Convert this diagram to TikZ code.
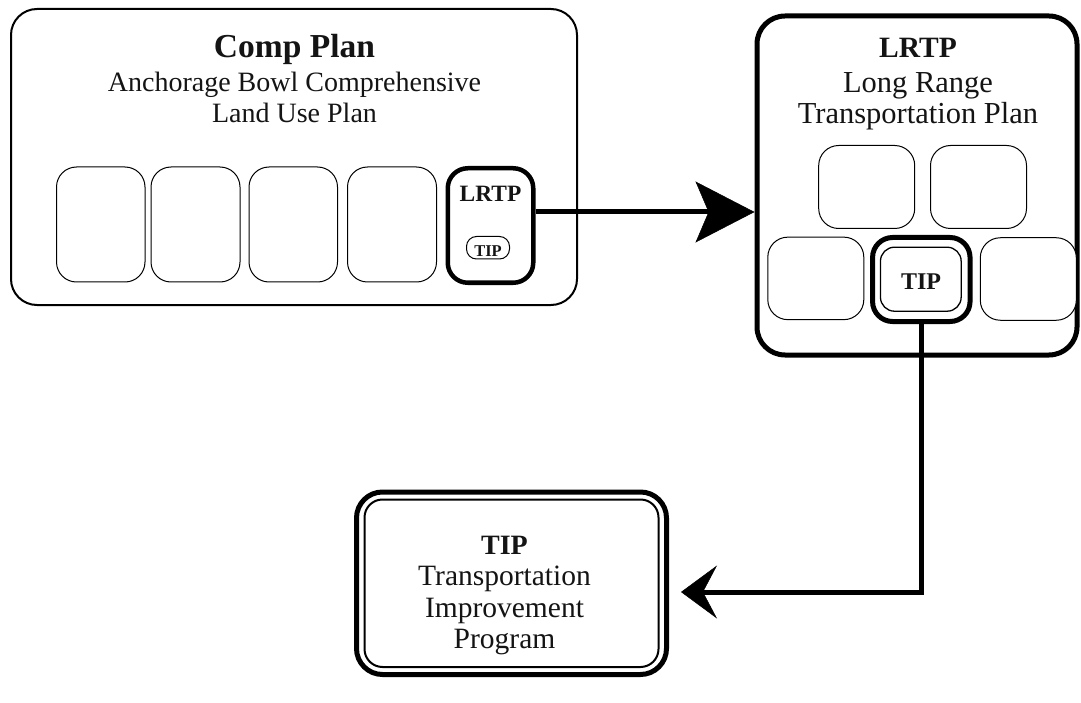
\documentclass[tikz,border=0pt]{standalone}
\usepackage{fontspec}
\setmainfont{Liberation Serif}
\usetikzlibrary{arrows.meta}

\newcommand{\bsz}[1]{\bfseries\fontsize{#1}{#1}\selectfont}
\newcommand{\rsz}[1]{\fontsize{#1}{#1}\selectfont}

\begin{document}
\begin{tikzpicture}[x=1pt,y=-1pt,
  panel/.style={draw=black, rectangle, inner sep=0pt, fill=white},
  thinbox/.style={panel, line width=1pt, rounded corners=20pt},
  thickbox/.style={panel, line width=5pt, rounded corners=20pt},
  label/.style={anchor=base, inner sep=0pt, text=black!92},
  conn/.style={draw=black, line width=5pt}]

% page
\fill[white] (0,0) rectangle (1081,703);
\useasboundingbox (0,0) rectangle (1081,703);

% ---------- Comp Plan ----------
\node[panel, line width=2pt, rounded corners=26pt,
      minimum width=566pt, minimum height=296pt] (cp) at (294,157) {};
\node[label, font=\bsz{33.5}] (cptitle) at (294.5,58) {Comp Plan};
\node[label, font=\rsz{28}] (cpsub1) at (294.5,92) {Anchorage Bowl Comprehensive};
\node[label, font=\rsz{28}] (cpsub2) at (294.5,123) {Land Use Plan};

\node[thinbox, minimum width=88.5pt, minimum height=115pt] (cpA) at (100.75,224.5) {};
\node[thinbox, minimum width=89pt,   minimum height=115pt] (cpB) at (195.5,224.5) {};
\node[thinbox, minimum width=88.5pt, minimum height=115pt] (cpC) at (293.25,224.5) {};
\node[thinbox, minimum width=89pt,   minimum height=115pt] (cpD) at (392,224.5) {};
\node[panel, line width=4.5pt, rounded corners=20pt,
      minimum width=85.5pt, minimum height=114.5pt] (cpL) at (490.5,225.5) {};
\node[label, font=\bsz{23.4}] (cpLtext) at (490.5,202) {LRTP};
\node[panel, line width=1pt, rounded corners=10pt,
      minimum width=43pt, minimum height=22.5pt] (cpT) at (488,247.75) {};
\node[label, font=\bsz{16.5}] (cpTtext) at (488,256.5) {TIP};

% ---------- LRTP ----------
\node[panel, line width=5pt, rounded corners=28pt,
      minimum width=320pt, minimum height=339pt] (lr) at (917,185.5) {};
\node[label, font=\bsz{29.5}] (lrtitle) at (918,58) {LRTP};
\node[label, font=\rsz{30.5}] (lrsub1) at (918,93) {Long Range};
\node[label, font=\rsz{30.5}] (lrsub2) at (918,124) {Transportation Plan};

\node[thinbox, minimum width=96pt, minimum height=83pt] (lrA) at (866.7,187) {};
\node[thinbox, minimum width=96pt, minimum height=83pt] (lrB) at (978.5,187) {};
\node[thinbox, minimum width=96pt, minimum height=82.5pt] (lrC) at (815.8,278.4) {};
\node[thinbox, minimum width=96pt, minimum height=82.5pt] (lrD) at (1028.3,279) {};
\node[thickbox, minimum width=97.5pt, minimum height=84pt] (lrT) at (921.3,279.5) {};
\node[panel, line width=1.3pt, rounded corners=14pt,
      minimum width=80.7pt, minimum height=64pt] (lrTi) at (920.8,279.2) {};
\node[label, font=\bsz{24}] (lrTtext) at (921,290) {TIP};

% ---------- TIP ----------
\node[panel, line width=5pt, rounded corners=26pt,
      minimum width=310pt, minimum height=182.5pt] (tb) at (511.5,583.25) {};
\node[panel, line width=2pt, rounded corners=18pt,
      minimum width=294pt, minimum height=167.5pt] (tbi) at (511.5,583.25) {};
\node[label, font=\bsz{28}] (tbtitle) at (504.5,554) {TIP};
\node[label, font=\rsz{29.5}] (tbsub1) at (504.5,585) {Transportation};
\node[label, font=\rsz{29.5}] (tbsub2) at (504.5,617) {Improvement};
\node[label, font=\rsz{29.5}] (tbsub3) at (504.5,648) {Program};

% ---------- connectors ----------
\coordinate (a1) at (0,212);
\coordinate (a2) at (0,592);
\draw[conn, -{Stealth[length=59pt,width=61pt,inset=13pt,line width=0.5pt]}]
  (cpL.east |- a1) -- (lr.west |- a1);
\draw[conn, -{Stealth[length=36pt,width=53pt,inset=14pt,line width=0.5pt]}]
  (lrT.south) |- ([xshift=12pt]tb.east |- a2);

\end{tikzpicture}
\end{document}
